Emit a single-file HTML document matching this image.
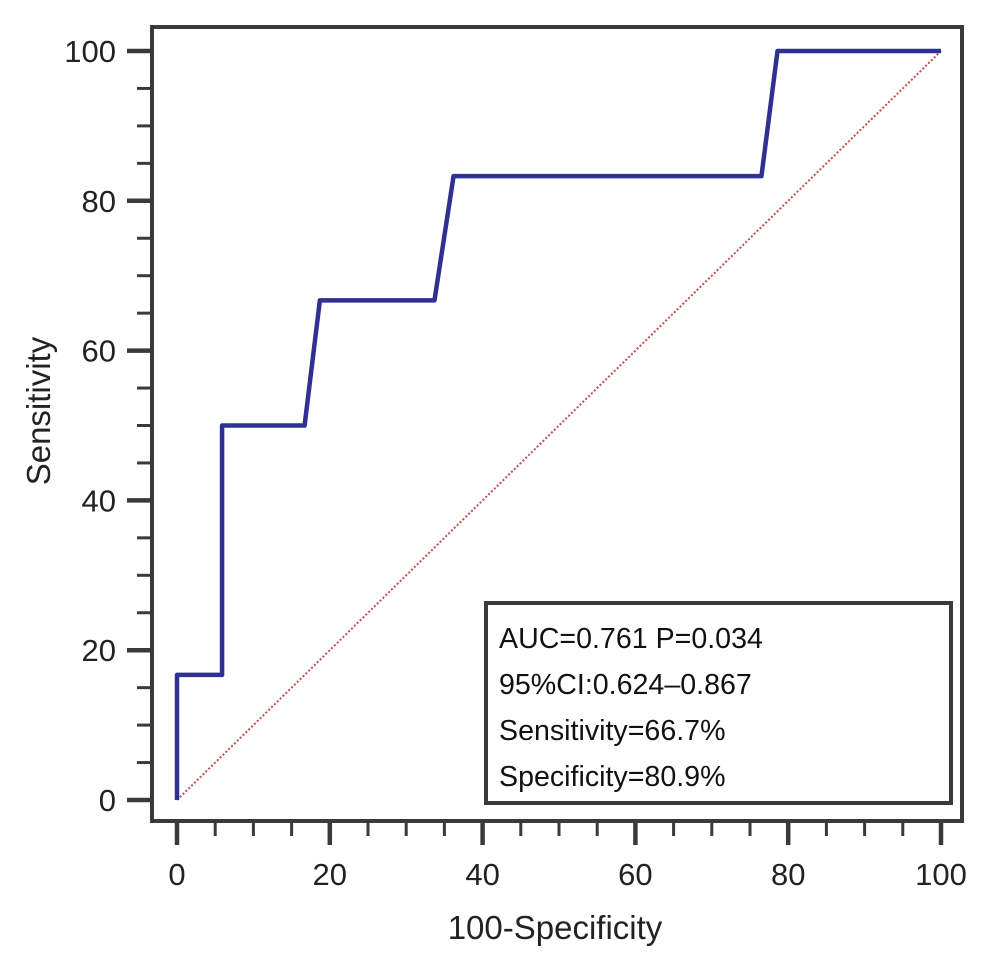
<!DOCTYPE html>
<html><head><meta charset="utf-8"><style>
body{margin:0;background:#fff;}
svg{display:block;font-family:"Liberation Sans",Arial,sans-serif;}
</style></head><body>
<svg id="c" width="992" height="969"></svg>
<script>
const fprValues=[0,0,5.9,5.9,16.7,18.7,33.7,36.2,76.5,78.6,100];
const tprValues=[0,16.7,16.7,50,50,66.7,66.7,83.3,83.3,100,100];
const xTicks=[0,20,40,60,80,100];
const yTicks=[0,20,40,60,80,100];
const legendLines=["AUC=0.761 P=0.034","95%CI:0.624\u20130.867","Sensitivity=66.7%","Specificity=80.9%"];
const NS="http://www.w3.org/2000/svg";
const svg=document.getElementById('c');
const X=v=>177+v*7.64, Y=v=>800-v*7.49;
function mk(t,a,p){const e=document.createElementNS(NS,t);for(const k in a)e.setAttribute(k,a[k]);(p||svg).appendChild(e);return e;}
const frame=mk('rect',{x:152,y:27,width:810,height:794,fill:'none',stroke:'#3a3a3a','stroke-width':4});


for(let v=0;v<=100;v+=5){
  const maj=v%20===0;
  const tx=mk('line',{x1:X(v),x2:X(v),y1:821,y2:maj?845:836,stroke:'#3a3a3a','stroke-width':maj?4.5:3});
  
  
  const ty=mk('line',{x1:152,x2:maj?127:137,y1:Y(v),y2:Y(v),stroke:'#3a3a3a','stroke-width':maj?4.5:3});
  
  
}
xTicks.forEach(v=>{const t=mk('text',{x:X(v),y:885,'text-anchor':'middle','font-size':31,fill:'#222'});t.textContent=v;
  
  });
yTicks.forEach(v=>{const t=mk('text',{x:116,y:Y(v)+11,'text-anchor':'end','font-size':31,fill:'#222'});t.textContent=v;
  
  });
const xt=mk('text',{x:555,y:939,'text-anchor':'middle','font-size':33,fill:'#222'});xt.textContent='100-Specificity';


const yt=mk('text',{x:50,y:411,'text-anchor':'middle','font-size':33,fill:'#222',transform:'rotate(-90 50 411)'});yt.textContent='Sensitivity';


const dg=mk('line',{x1:X(0),y1:Y(0),x2:X(100),y2:Y(100),stroke:'#c0504d','stroke-width':2,'stroke-dasharray':'2,2'});


const pl=mk('polyline',{points:fprValues.map((f,i)=>X(f)+','+Y(tprValues[i])).join(' '),fill:'none',stroke:'#2e3192','stroke-width':4.5,'stroke-linejoin':'round'});


const lb=mk('rect',{x:486,y:603,width:465,height:200,fill:'#fff',stroke:'#3a3a3a','stroke-width':4});


legendLines.forEach((s,i)=>{const t=mk('text',{x:499,y:648+i*46,'font-size':28.6,fill:'#111'});t.textContent=s;
  
  });
</script>
</body></html>
